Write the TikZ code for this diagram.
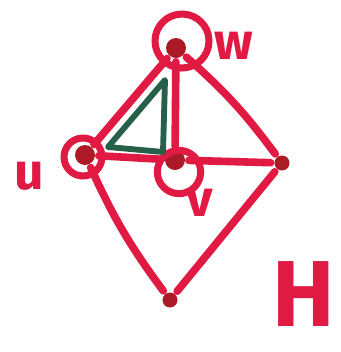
\documentclass[tikz,border=0pt]{standalone}
\usepackage{fontspec}
\setsansfont{Fira Sans}
\usetikzlibrary{positioning}

\definecolor{pen}{RGB}{224,26,66}
\definecolor{ink}{RGB}{172,26,40}
\definecolor{leaf}{RGB}{38,96,72}

\begin{document}
\begin{tikzpicture}[x=0.03cm,y=-0.03cm,pen,line width=6.5pt,line cap=round,line join=round,
    vertex/.style={circle,fill=ink,inner sep=0pt,minimum size=0.6cm},
    ring/.style={circle,draw=pen,line width=6pt,inner sep=0pt},
    lbl/.style={text=pen,inner sep=0pt,font=\sffamily\bfseries\fontsize{44}{44}\selectfont}]

\useasboundingbox (0,0) rectangle (341,352);

% Vertices
\node[vertex] (w) at (176,48) {};
\node[vertex] (u) at (85,155) {};
\node[vertex] (v) at (175,160) {};
\node[vertex,minimum size=0.45cm] (r) at (282,163) {};
\node[vertex,minimum size=0.45cm] (b) at (170,300) {};

% Edges
\draw (u) -- (w);
\draw (w) -- (v);
\draw (w) to[bend left=6] (r);
\draw (u) -- (v) -- (r);
\draw (u) to[bend right=6] (b);
\draw (b) -- (r);

% Rings
\node[ring,minimum size=1.62cm] (wring) at (182,41) {};
\node[ring,minimum size=1.14cm] (uring) at (83,157) {};
\node[ring,minimum size=1.3cm] (vring) at (179,172) {};

% Triangle
\coordinate (t1) at (108,147);
\coordinate (t2) at (165,80);
\coordinate (t3) at (163,152);
\draw[leaf,line width=5pt] (t1) -- (t2) -- (t3) -- cycle;

% Labels
\node[lbl] (wl) at (234,46) {w};
\node[lbl] (ul) at (29,176) {u};
\node[lbl] (vl) at (200,203) {v};
\node[text=pen,inner sep=0pt,font=\sffamily\bfseries\fontsize{80}{80}\selectfont] (hl) at (304,294) {H};

\end{tikzpicture}
\end{document}
